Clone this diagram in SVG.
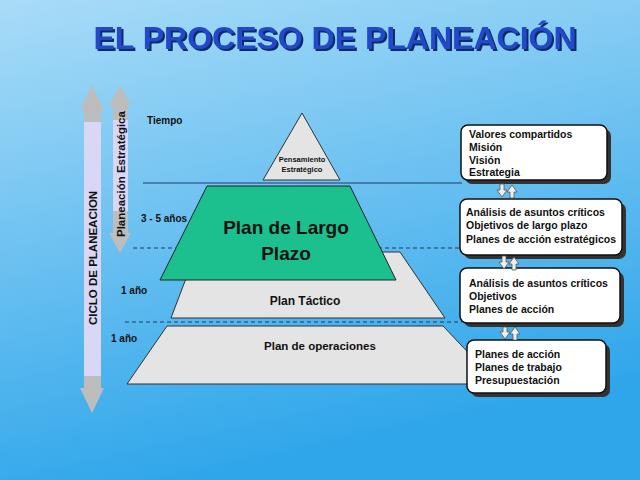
<svg xmlns="http://www.w3.org/2000/svg" width="640" height="480" viewBox="0 0 640 480">
<defs>
<linearGradient id="bg" x1="0" y1="0" x2="0.3" y2="1"><stop offset="0" stop-color="#a9dcf8"/><stop offset="1" stop-color="#2fa6ea"/></linearGradient>
<filter id="ts" x="-5%" y="-20%" width="110%" height="150%"><feDropShadow dx="2" dy="2" stdDeviation="0.3" flood-color="#0a2a6a"/></filter>
</defs>
<style>
text{font-family:"Liberation Sans",Arial,sans-serif;font-weight:bold;fill:#111}
.box{fill:#fff;stroke:#111;stroke-width:1.5}
.sh{fill:#333}
.bt{font-size:10.5px}
.lab{font-size:10px}
.pyr{fill:#e4e4e4;stroke:#333;stroke-width:1}
.da{stroke:#1f3a6a;stroke-width:1;stroke-dasharray:4,3}
.sm{fill:#eee;stroke:#555;stroke-width:0.8}
</style>
<rect width="640" height="480" fill="url(#bg)"/>
<text x="335" y="49" font-size="32" text-anchor="middle" style="fill:#2448c8" filter="url(#ts)">EL PROCESO DE PLANEACIÓN</text>

<g id="ciclo">
<polygon points="92,85 104,110 80,110" fill="#bdbdbd"/>
<rect x="84" y="110" width="17" height="12" fill="#bdbdbd"/>
<rect x="84" y="122" width="17" height="254" fill="#d9d6f6"/>
<rect x="84" y="376" width="17" height="12" fill="#bdbdbd"/>
<polygon points="80,388 104,388 92,413" fill="#bdbdbd"/>
<text transform="translate(97,325) rotate(-90)" font-size="11.5">CICLO DE PLANEACION</text>
</g>
<g id="estrategica">
<polygon points="120,85 131,105 109,105" fill="#bdbdbd"/>
<rect x="113" y="105" width="15" height="27" fill="#bdbdbd"/>
<rect x="113" y="120" width="15" height="93" fill="#d9d6f6"/>
<rect x="113" y="211" width="15" height="22" fill="#bdbdbd"/>
<polygon points="109,233 131,233 120,253" fill="#bdbdbd"/>
<text transform="translate(125,237) rotate(-90)" font-size="11.5">Planeación Estratégica</text>
</g>

<g id="lines">
<line x1="143" y1="183" x2="462" y2="183" stroke="#1f3a6a" stroke-width="1"/>
<line class="da" x1="133" y1="248" x2="462" y2="248"/>
<line class="da" x1="125" y1="322" x2="462" y2="322"/>
</g>
<text class="lab" x="147" y="124">Tiempo</text>
<text class="lab" x="141" y="222">3 - 5  años</text>
<text class="lab" x="121" y="294">1 año</text>
<text class="lab" x="111" y="342">1 año</text>

<g id="operaciones">
<polygon class="pyr" points="167,326 443,326 498,384 127,384"/>
<text x="320" y="350" font-size="11.5" text-anchor="middle">Plan de operaciones</text>
</g>
<g id="tactico">
<polygon class="pyr" points="196,252 400,252 445,318 171,318"/>
<text x="305" y="305" font-size="12" text-anchor="middle">Plan Táctico</text>
</g>
<g id="pensamiento">
<polygon class="pyr" points="302,113 340,180 263,180"/>
<text x="302" y="162" font-size="7.5" text-anchor="middle">Pensamiento</text>
<text x="302" y="172" font-size="7.5" text-anchor="middle">Estratégico</text>
</g>
<g id="largo">
<polygon points="207,186 350,186 396,280 160,280" fill="#1cbf8e" stroke="#222" stroke-width="1"/>
<text x="286" y="234" font-size="19" text-anchor="middle">Plan de Largo</text>
<text x="286" y="260" font-size="19" text-anchor="middle">Plazo</text>
</g>

<g id="b1"><rect class="sh" x="465" y="129" width="146" height="55" rx="7"/><rect class="box" x="461" y="125" width="146" height="55" rx="7"/>
<text class="bt" x="469" y="138">Valores compartidos</text><text class="bt" x="469" y="151">Misión</text><text class="bt" x="469" y="164">Visión</text><text class="bt" x="469" y="176">Estrategia</text></g>
<g id="b2"><rect class="sh" x="464" y="203" width="162" height="56" rx="7"/><rect class="box" x="460" y="199" width="162" height="56" rx="7"/>
<text class="bt" x="466" y="216">Análisis de asuntos críticos</text><text class="bt" x="466" y="229">Objetivos de largo plazo</text><text class="bt" x="466" y="243">Planes de acción estratégicos</text></g>
<g id="b3"><rect class="sh" x="464" y="272" width="160" height="55" rx="7"/><rect class="box" x="460" y="268" width="160" height="55" rx="7"/>
<text class="bt" x="469" y="287">Análisis de asuntos críticos</text><text class="bt" x="469" y="300">Objetivos</text><text class="bt" x="469" y="313">Planes de acción</text></g>
<g id="b4"><rect class="sh" x="471" y="344" width="139" height="53" rx="7"/><rect class="box" x="467" y="340" width="139" height="53" rx="7"/>
<text class="bt" x="475" y="358">Planes de acción</text><text class="bt" x="475" y="371">Planes de trabajo</text><text class="bt" x="475" y="384">Presupuestación</text></g>

<g id="connectors">
<g id="c1"><path class="sm" d="M500,184h4v6h3l-5,7l-5,-7h3z"/><path class="sm" d="M510,198h4v-6h3l-5,-7l-5,7h3z"/></g>
<g id="c2"><path class="sm" d="M502,256h4v6h3l-5,7l-5,-7h3z"/><path class="sm" d="M512,270h4v-6h3l-5,-7l-5,7h3z"/></g>
<g id="c3"><path class="sm" d="M503,327h4v5h3l-5,7l-5,-7h3z"/><path class="sm" d="M513,340h4v-6h3l-5,-7l-5,7h3z"/></g>
</g>
</svg>
